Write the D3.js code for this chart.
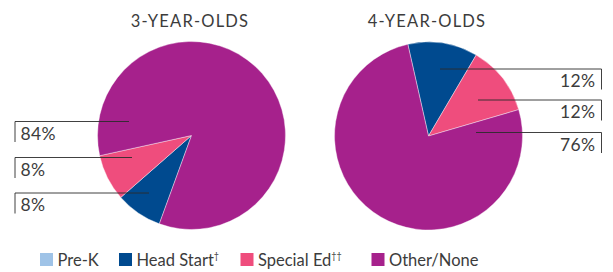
<!DOCTYPE html>
<html>
<head>
<meta charset="utf-8">
<script src="https://cdn.jsdelivr.net/npm/d3@7"></script>
<style>
  body { margin: 0; background: #fff; }
  svg { font-family: Lato, "Open Sans", sans-serif; fill: #3c3c3c; }
</style>
</head>
<body>
<svg width="613" height="272"></svg>
<script>
var categories = ["Pre-K", "Head Start", "Special Ed", "Other/None"];
var legendSup = ["", "\u2020", "\u2020\u2020", ""];
var titles = ["3-YEAR-OLDS", "4-YEAR-OLDS"];
var threeYear = [0, 8, 8, 84];
var fourYear = [0, 12, 12, 76];

var colors = ["#9fc3e7", "#004a8f", "#ef4d7d", "#a6218c"];

var svg = d3.select("svg");
var color = d3.scaleOrdinal().domain(categories).range(colors);

// pie layout per chart
var pies = [
    { cx: 191.5, cy: 135.5, r: 94, start: 200, values: threeYear, side: "left",
      // [category index, line y, inner x]
      labels: [[3, 121.5, 129], [2, 157.5, 132], [1, 193, 149]] },
    { cx: 428.5, cy: 136, r: 94, start: -12.7, values: fourYear, side: "right",
      labels: [[1, 69, 440], [2, 100, 478], [3, 132.5, 476]] }
];

var arc = d3.arc().innerRadius(0);

pies.forEach(function(p, k) {
    var g = svg.append("g").attr("transform", "translate(" + p.cx + "," + p.cy + ")");
    var s = p.start * Math.PI / 180;
    var pie = d3.pie().sort(null).startAngle(s).endAngle(s + 2 * Math.PI);
    var data = pie(p.values);

    g.selectAll("path")
     .data(data)
     .enter().append("path")
     .attr("d", function(d) { return arc.outerRadius(p.r)(d); })
     .attr("fill", function(d, i) { return colors[i]; })
     .attr("stroke", function(d) { return d.value > 0 ? "#fff" : "none"; })
     .attr("stroke-width", 0.4);

    svg.append("text")
       .attr("x", p.cx - 1.5)
       .attr("y", 26.5)
       .attr("text-anchor", "middle")
       .attr("font-size", 16.5)
       .attr("letter-spacing", 1.2)
       .text(titles[k]);

    // leader lines + labels
    p.labels.forEach(function(l) {
        var i = l[0], y = l[1], xin = l[2];
        var edge = p.side == "left" ? 15 : 601.5;
        svg.append("path")
           .attr("d", "M" + xin + "," + y + "H" + edge + "V" + (y + 20.5))
           .attr("fill", "none")
           .attr("stroke", "#2b2b2b")
           .attr("stroke-width", 0.9);
        svg.append("text")
           .attr("x", p.side == "left" ? edge + 5.5 : edge - 6)
           .attr("y", y + 18)
           .attr("text-anchor", p.side == "left" ? "start" : "end")
           .attr("font-size", 17.5)
           .attr("letter-spacing", 0.4)
           .text(p.values[i] + "%");
    });
});

// legend
var legendX = [40, 119, 240.5, 371.5];
var lg = svg.append("g").selectAll("g")
    .data(categories)
    .enter().append("g")
    .attr("transform", function(d, i) { return "translate(" + legendX[i] + ",253)"; });

lg.append("rect")
  .attr("width", 13)
  .attr("height", 13)
  .attr("fill", function(d) { return color(d); });

var lt = lg.append("text")
  .attr("x", 17.5)
  .attr("y", 12.5)
  .attr("font-size", 16.5)
  .text(function(d) { return d; });

lt.append("tspan")
  .attr("dy", -7)
  .attr("font-size", 9)
  .text(function(d, i) { return legendSup[i]; });
</script>
</body>
</html>
